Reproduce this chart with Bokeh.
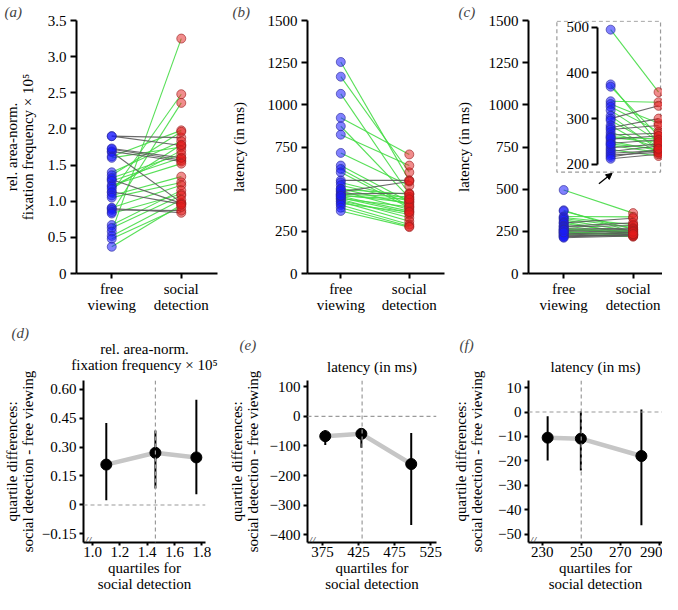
from bokeh.plotting import figure
from bokeh.layouts import row, column
from bokeh.models import (FixedTicker, Range1d, LinearAxis, Label, Span, Arrow,
                          NormalHead, ColumnDataSource, Title, CustomJSTickFormatter)
from bokeh.embed import file_html
from bokeh.resources import INLINE

# ---------------- data ----------------
CATEGORIES = ["free\nviewing", "social\ndetection"]

A_FREE = [1.90, 1.90, 1.72, 1.69, 1.68, 1.30, 1.13, 0.90, 1.73,
          1.62, 1.60, 1.40, 1.36, 1.32, 1.28, 1.22, 1.20, 1.17, 1.12,
          1.08, 1.05, 0.91, 0.88, 0.85, 0.83, 0.67, 0.63, 0.58, 0.52, 0.48, 0.37]
A_SOCIAL = [1.88, 1.77, 1.57, 1.55, 0.98, 0.97, 0.96, 0.84, 1.60,
            1.98, 1.75, 1.83, 1.96, 1.65, 1.60, 1.52, 1.70, 1.78, 2.48,
            1.34, 1.26, 1.22, 0.87, 2.36, 1.10, 1.15, 1.08, 3.25, 1.02, 0.92, 0.95]

B_FREE = [1254, 1167, 1065, 923, 873, 823, 715, 640, 620, 600,
          552, 540, 523, 503, 490, 484, 472, 470, 465, 458,
          450, 445, 440, 430, 426, 415, 406, 390, 371, 500, 460]
B_SOCIAL = [552, 600, 470, 706, 450, 640, 520, 425, 400, 390,
            552, 440, 430, 410, 380, 545, 476, 455, 420, 370,
            360, 395, 330, 350, 310, 365, 290, 280, 275, 470, 440]

C_FREE = [495, 375, 370, 338, 332, 326, 318, 306, 300, 296,
          285, 280, 276, 270, 264, 260, 255, 250, 246, 241,
          236, 232, 228, 224, 220, 216, 212, 258, 244]
C_SOCIAL = [358, 245, 262, 336, 290, 272, 250, 232, 328, 238,
            225, 300, 285, 236, 268, 255, 262, 230, 253, 226,
            244, 218, 240, 230, 226, 232, 222, 248, 234]

A_TICKS = [0, 0.5, 1.0, 1.5, 2.0, 2.5, 3.0, 3.5]
A_TICK_LABELS = ["0", "0.5", "1.0", "1.5", "2.0", "2.5", "3.0", "3.5"]
LAT_TICKS = [0, 250, 500, 750, 1000, 1250, 1500]
LAT_TICK_LABELS = ["0", "250", "500", "750", "1000", "1250", "1500"]
INSET_TICKS = [200, 300, 400, 500]

D_X = [1.10, 1.46, 1.76]
D_MED = [0.209, 0.270, 0.246]
D_LO = [0.025, 0.085, 0.055]
D_HI = [0.424, 0.385, 0.544]
D_REF_X = 1.46
D_XTICKS = [1.0, 1.2, 1.4, 1.6, 1.8]
D_XTICK_LABELS = ["1.0", "1.2", "1.4", "1.6", "1.8"]
D_YTICKS = [-0.15, 0, 0.15, 0.30, 0.45, 0.60]
D_YTICK_LABELS = ["\u22120.15", "0", "0.15", "0.30", "0.45", "0.60"]

E_X = [379, 429, 498]
E_MED = [-67, -59, -161]
E_LO = [-97, -106, -367]
E_HI = [-47, -50, -56]
E_REF_X = 430
E_XTICKS = [375, 425, 475, 525]
E_YTICKS = [-400, -300, -200, -100, 0, 100]
E_YTICK_LABELS = ["\u2212400", "\u2212300", "\u2212200", "\u2212100", "0", "100"]

F_X = [232.8, 249.8, 280.8]
F_MED = [-10.5, -10.9, -18.0]
F_LO = [-19.8, -23.9, -46.3]
F_HI = [-1.7, 0.3, 1.0]
F_REF_X = 250
F_XTICKS = [230, 250, 270, 290]
F_YTICKS = [-50, -40, -30, -20, -10, 0, 10]
F_YTICK_LABELS = ["\u221250", "\u221240", "\u221230", "\u221220", "\u221210", "0", "10"]

# ---------------- style ----------------
FONT = "Liberation Serif"
FS = "15px"
GREEN = "#45dc45"
GREY_LINE = "#5a5a5a"
BLUE = "#1a1aff"
BLUE_EDGE = "#2a2a9a"
RED = "#e41a1a"
RED_EDGE = "#9a2020"
DASH_COL = "#9a9a9a"

TOP_H, BOT_H = 318, 276


def label_formatter(ticks, labels):
    return CustomJSTickFormatter(args=dict(tv=list(ticks), tl=list(labels)), code="""
        for (let i = 0; i < tv.length; i++) {
            if (Math.abs(tv[i] - tick) < 1e-9) { return tl[i]; }
        }
        return String(tick);
    """)


def make_fig(w, h, xr, yr, bl, br, bt, bb):
    p = figure(width=w, height=h, x_range=Range1d(*xr), y_range=Range1d(*yr),
               output_backend="svg", toolbar_location=None,
               x_axis_location=None, y_axis_location=None,
               min_border_left=bl, min_border_right=br,
               min_border_top=bt, min_border_bottom=bb)
    p.add_layout(LinearAxis(), "below")
    p.add_layout(LinearAxis(), "left")
    p.outline_line_color = None
    p.grid.visible = False
    p.background_fill_color = "white"
    p.border_fill_color = "white"
    return p


def style_axis(ax, tick_out=6, standoff=3, label_standoff=8, lh=1.0):
    ax.axis_line_width = 2
    ax.axis_line_color = "black"
    ax.major_tick_line_width = 2
    ax.major_tick_in = 0
    ax.major_tick_out = tick_out
    ax.minor_tick_line_color = None
    ax.major_label_standoff = standoff
    ax.major_label_text_font = FONT
    ax.major_label_text_font_size = FS
    ax.major_label_text_color = "black"
    ax.major_label_text_line_height = lh
    ax.axis_label_text_font = FONT
    ax.axis_label_text_font_size = FS
    ax.axis_label_text_font_style = "normal"
    ax.axis_label_text_color = "black"
    ax.axis_label_text_line_height = lh
    ax.axis_label_standoff = label_standoff


def letter(p, text, dx, standoff=2):
    p.add_layout(Title(text=text, align="left", offset=dx, standoff=standoff,
                       text_font=FONT, text_font_size=FS, text_font_style="italic"),
                 "above")


def paired(p, free, social, expect_up, **kw):
    x0, x1, y0, y1, cols = [], [], [], [], []
    for f, s in zip(free, social):
        good = (s > f) if expect_up else (s < f)
        x0.append(0)
        x1.append(1)
        y0.append(f)
        y1.append(s)
        cols.append(GREEN if good else GREY_LINE)
    order = sorted(range(len(cols)), key=lambda i: cols[i] == GREY_LINE)
    src = ColumnDataSource(dict(x0=[x0[i] for i in order], x1=[x1[i] for i in order],
                                y0=[y0[i] for i in order], y1=[y1[i] for i in order],
                                c=[cols[i] for i in order]))
    p.segment("x0", "y0", "x1", "y1", source=src, line_color="c", line_width=1.1,
              line_alpha=0.9, **kw)
    p.scatter([0] * len(free), free, size=9, fill_color=BLUE, fill_alpha=0.55,
              line_color=BLUE_EDGE, line_width=0.8, line_alpha=0.8, **kw)
    p.scatter([1] * len(social), social, size=9, fill_color=RED, fill_alpha=0.5,
              line_color=RED_EDGE, line_width=0.8, line_alpha=0.8, **kw)


def top_axes(p, yticks, ylabels, ylabel, label_standoff, bounds=None):
    xa = p.below[0]
    style_axis(xa, tick_out=5, standoff=2)
    xa.ticker = FixedTicker(ticks=[0, 1])
    xa.formatter = label_formatter([0, 1], CATEGORIES)
    ya = p.left[0]
    style_axis(ya, tick_out=6, standoff=4, label_standoff=label_standoff)
    ya.ticker = FixedTicker(ticks=yticks)
    ya.formatter = label_formatter(yticks, ylabels)
    ya.axis_label = ylabel
    if bounds is not None:
        ya.bounds = bounds


# ---------------- top row ----------------
pa = make_fig(227, TOP_H, (-0.507, 1.521), (0, 3.5), 73, 10, 17, 45)
paired(pa, A_FREE, A_SOCIAL, True)
top_axes(pa, A_TICKS, A_TICK_LABELS,
         "rel. area-norm.\nfixation frequency \u00d7 10\u2075", 9)
letter(pa, "(a)", -72)

pb = make_fig(225, TOP_H, (-0.486, 1.514), (0, 1500), 73, 8, 17, 45)
paired(pb, B_FREE, B_SOCIAL, False)
top_axes(pb, LAT_TICKS, LAT_TICK_LABELS, "latency (in ms)", 18)
letter(pb, "(b)", -75)

pc = make_fig(210, TOP_H, (-0.507, 1.423), (0, 1500), 73, 0, 17, 45)
pc.extra_x_ranges = {"inset": Range1d(-1.714, 1.082)}
pc.extra_y_ranges = {"inset": Range1d(-39.6, 515.1)}
paired(pc, C_FREE, C_SOCIAL, False)
paired(pc, C_FREE, C_SOCIAL, False, x_range_name="inset", y_range_name="inset")
top_axes(pc, LAT_TICKS, LAT_TICK_LABELS, "latency (in ms)", 14)
pc.quad(left=[-1.122], right=[1.041], bottom=[182.7], top=[513.5],
        fill_color=None, line_color=DASH_COL, line_dash="4 3", line_width=1.2,
        x_range_name="inset", y_range_name="inset", level="underlay")
inset_ax = LinearAxis(x_range_name="inset", y_range_name="inset",
                      fixed_location=-0.265, bounds=(200, 500),
                      ticker=FixedTicker(ticks=INSET_TICKS))
style_axis(inset_ax, tick_out=6, standoff=3)
pc.add_layout(inset_ax, "left")
pc.add_layout(Arrow(end=NormalHead(size=6, fill_color="black", line_color="black"),
                    x_start=-0.245, y_start=157.0, x_end=0.03, y_end=180.0,
                    line_width=1.3, line_color="black",
                    x_range_name="inset", y_range_name="inset"))
letter(pc, "(c)", -70)


# ---------------- bottom row ----------------
def bottom(w, xr, yr, br, x, med, lo, hi, refx, xticks, xlabels, yticks, ylabels,
           title, ylab_standoff, title_standoff):
    p = make_fig(w, BOT_H, xr, yr, 71, br, 62, 48)
    p.add_layout(Span(location=0, dimension="width", line_color=DASH_COL,
                      line_dash="4 3", line_width=1.2))
    p.add_layout(Span(location=refx, dimension="height", line_color=DASH_COL,
                      line_dash="4 3", line_width=1.2))
    p.line(x, med, line_color="#c6c6c6", line_width=4.5)
    p.segment(x, lo, x, hi, line_color="black", line_width=2)
    p.scatter(x, med, size=11, fill_color="black", line_color="black")
    xa = p.below[0]
    style_axis(xa, tick_out=3, standoff=1, label_standoff=0)
    xa.ticker = FixedTicker(ticks=xticks)
    xa.formatter = label_formatter(xticks, xlabels)
    xa.axis_label = "quartiles for\nsocial detection"
    ya = p.left[0]
    style_axis(ya, tick_out=4, standoff=3, label_standoff=ylab_standoff)
    ya.ticker = FixedTicker(ticks=yticks)
    ya.formatter = label_formatter(yticks, ylabels)
    ya.axis_label = "quartile differences:\nsocial detection - free viewing"
    # panel title, centred line by line over the frame
    ta = LinearAxis(ticker=FixedTicker(ticks=[]), axis_label=title)
    style_axis(ta, tick_out=0, standoff=0, label_standoff=title_standoff)
    ta.axis_line_color = None
    ta.major_tick_line_color = None
    p.add_layout(ta, "above")
    p.add_layout(Label(x=xr[0], y=yr[0], x_offset=1, y_offset=-5, text="//",
                       text_font=FONT, text_font_size="12px", text_align="left",
                       text_baseline="bottom", text_font_style="italic"))
    return p


pd_ = bottom(225, (0.933, 1.827), (-0.194, 0.644), 20, D_X, D_MED, D_LO, D_HI, D_REF_X,
             D_XTICKS, D_XTICK_LABELS, D_YTICKS, D_YTICK_LABELS,
             "rel. area-norm.\nfixation frequency \u00d7 10\u2075", 3, 8)
letter(pd_, "(d)", -72, -6)

pe = bottom(225, (354.4, 533.0), (-426, 121), 14, E_X, E_MED, E_LO, E_HI, E_REF_X,
            E_XTICKS, [str(t) for t in E_XTICKS], E_YTICKS, E_YTICK_LABELS,
            "latency (in ms)", 6, 6)
letter(pe, "(e)", -68, 6)

pf = bottom(212, (223.0, 291.6), (-53.4, 12.9), 0, F_X, F_MED, F_LO, F_HI, F_REF_X,
            F_XTICKS, [str(t) for t in F_XTICKS], F_YTICKS, F_YTICK_LABELS,
            "latency (in ms)", 10, 6)
letter(pf, "(f)", -69, 6)

layout = column(row(pa, pb, pc), row(pd_, pe, pf))
open("out.html", "w").write(file_html(layout, INLINE))
